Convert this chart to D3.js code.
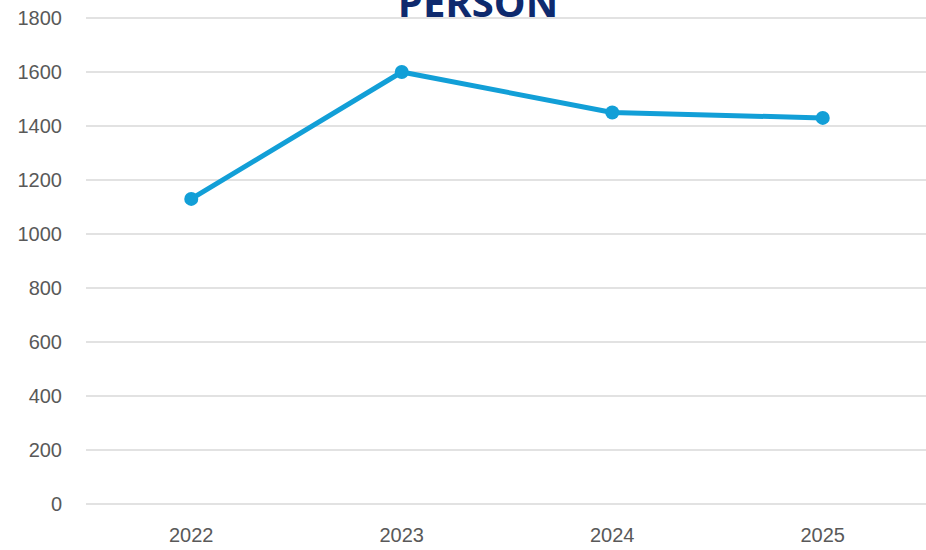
<!DOCTYPE html>
<html>
<head>
<meta charset="utf-8">
<script src="https://cdn.jsdelivr.net/npm/d3@7"></script>
<style>
  body { margin: 0; background: #fff; }
  svg { display: block; }
</style>
</head>
<body>
<svg id="chart"></svg>
<script>
var years = ["2022", "2023", "2024", "2025"];
var persons = [1130, 1600, 1450, 1430];
var yTicks = [0, 200, 400, 600, 800, 1000, 1200, 1400, 1600, 1800];
var title = "PERSON";

var width = 926;
var height = 550;

var svg = d3.select("#chart").attr("width", width).attr("height", height);

var x = d3.scaleBand().domain(years).range([86, 928]);
var y = d3.scaleLinear().domain([0, 1800]).range([504, 18]);

// gridlines
svg
  .append("g")
  .selectAll("line")
  .data(yTicks)
  .enter()
  .append("line")
  .attr("x1", 86)
  .attr("x2", 926)
  .attr("y1", function (d) { return y(d); })
  .attr("y2", function (d) { return y(d); })
  .attr("stroke", "#d9d9d9")
  .attr("stroke-width", 1.5);

// y labels
svg
  .append("g")
  .selectAll("text")
  .data(yTicks)
  .enter()
  .append("text")
  .attr("x", 62)
  .attr("y", function (d) { return y(d); })
  .attr("dy", "0.35em")
  .attr("text-anchor", "end")
  .attr("font-family", "Liberation Sans, Arial, sans-serif")
  .attr("font-size", 20)
  .attr("fill", "#595959")
  .text(function (d) { return d; });

// x labels
svg
  .append("g")
  .selectAll("text")
  .data(years)
  .enter()
  .append("text")
  .attr("x", function (d) { return x(d) + x.bandwidth() / 2; })
  .attr("y", 542)
  .attr("text-anchor", "middle")
  .attr("font-family", "Liberation Sans, Arial, sans-serif")
  .attr("font-size", 20)
  .attr("fill", "#595959")
  .text(function (d) { return d; });

var pts = years.map(function (d, i) {
  return { x: x(d) + x.bandwidth() / 2, y: y(persons[i]) };
});

svg
  .append("path")
  .datum(pts)
  .attr("fill", "none")
  .attr("stroke", "#129fd7")
  .attr("stroke-width", 5)
  .attr("stroke-linejoin", "round")
  .attr("d", d3.line().x(function (d) { return d.x; }).y(function (d) { return d.y; }));

svg
  .append("g")
  .selectAll("circle")
  .data(pts)
  .enter()
  .append("circle")
  .attr("cx", function (d) { return d.x; })
  .attr("cy", function (d) { return d.y; })
  .attr("r", 7)
  .attr("fill", "#129fd7");

// title, cut at the top like the original
svg
  .append("text")
  .attr("x", 478)
  .attr("y", 17)
  .attr("text-anchor", "middle")
  .attr("font-family", "Open Sans, sans-serif")
  .attr("font-weight", "bold")
  .attr("font-size", 40)
  .attr("fill", "#0e2a6e")
  .text(title);
</script>
</body>
</html>
